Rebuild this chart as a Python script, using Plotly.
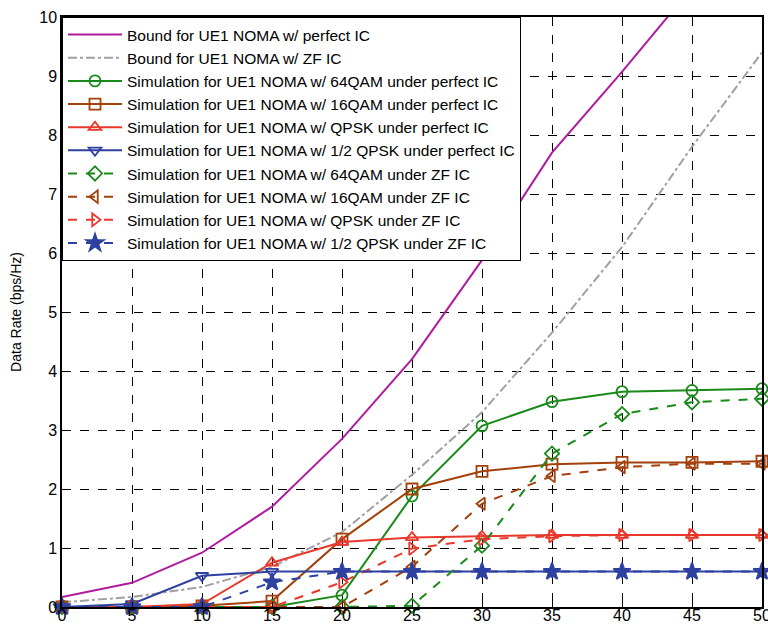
import plotly.graph_objects as go

snr = [0, 5, 10, 15, 20, 25, 30, 35, 40, 45, 50]

bound_perfect = [0.17, 0.41, 0.92, 1.7, 2.85, 4.2, 5.88, 7.7, 9.07, 10.5, 12.0]
bound_zf = [0.08, 0.17, 0.34, 0.68, 1.27, 2.24, 3.3, 4.65, 6.1, 7.8, 9.4]

sim_64qam_perfect = [0, 0, 0, 0, 0.2, 1.88, 3.07, 3.48, 3.65, 3.67, 3.7]
sim_16qam_perfect = [0, 0, 0.02, 0.1, 1.15, 2.0, 2.3, 2.42, 2.45, 2.45, 2.47]
sim_qpsk_perfect = [0, 0, 0.05, 0.75, 1.1, 1.18, 1.2, 1.22, 1.22, 1.22, 1.22]
sim_halfqpsk_perfect = [0, 0.05, 0.53, 0.6, 0.6, 0.6, 0.6, 0.6, 0.6, 0.6, 0.6]

sim_64qam_zf = [0, 0, 0, 0, 0, 0.02, 1.04, 2.6, 3.27, 3.47, 3.53]
sim_16qam_zf = [0, 0, 0, 0, 0, 0.68, 1.75, 2.22, 2.37, 2.43, 2.43]
sim_qpsk_zf = [0, 0, 0, 0, 0.42, 0.99, 1.15, 1.2, 1.22, 1.22, 1.22]
sim_halfqpsk_zf = [0, 0, 0, 0.42, 0.6, 0.6, 0.6, 0.6, 0.6, 0.6, 0.6]

x_ticks = [0, 5, 10, 15, 20, 25, 30, 35, 40, 45, 50]
y_ticks = [0, 1, 2, 3, 4, 5, 6, 7, 8, 9, 10]

MAG = "#B01A9E"
GRAY = "#A0A0A0"
GREEN = "#1A8A1A"
BROWN = "#A3400B"
RED = "#E8392C"
BLUE = "#2E41A0"

FONT = "Liberation Sans, Arial"

fig = go.Figure()

fig.add_trace(go.Scatter(x=snr, y=bound_perfect, mode="lines",
                         name="Bound for UE1 NOMA w/ perfect IC",
                         line=dict(color=MAG, width=2)))
fig.add_trace(go.Scatter(x=snr, y=bound_zf, mode="lines",
                         name="Bound for UE1 NOMA w/ ZF IC",
                         line=dict(color=GRAY, width=2, dash="dashdot")))

series = [
    (sim_64qam_perfect, "Simulation for UE1 NOMA w/ 64QAM under perfect IC", GREEN, "solid", "circle-open"),
    (sim_16qam_perfect, "Simulation for UE1 NOMA w/ 16QAM under perfect IC", BROWN, "solid", "square-open"),
    (sim_qpsk_perfect, "Simulation for UE1 NOMA w/ QPSK under perfect IC", RED, "solid", "triangle-up-open"),
    (sim_halfqpsk_perfect, "Simulation for UE1 NOMA w/ 1/2 QPSK under perfect IC", BLUE, "solid", "triangle-down-open"),
    (sim_64qam_zf, "Simulation for UE1 NOMA w/ 64QAM under ZF IC", GREEN, "dash", "diamond-open"),
    (sim_16qam_zf, "Simulation for UE1 NOMA w/ 16QAM under ZF IC", BROWN, "dash", "triangle-left-open"),
    (sim_qpsk_zf, "Simulation for UE1 NOMA w/ QPSK under ZF IC", RED, "dash", "triangle-right-open"),
    (sim_halfqpsk_zf, "Simulation for UE1 NOMA w/ 1/2 QPSK under ZF IC", BLUE, "dash", "star"),
]
for ys, name, color, dash, sym in series:
    fig.add_trace(go.Scatter(
        x=snr, y=ys, mode="lines+markers", name=name,
        line=dict(color=color, width=2, dash=dash),
        marker=dict(symbol=sym, size=11 if sym != "star" else 13, color=color,
                    line=dict(color=color, width=1.8)),
        cliponaxis=False))

axis_common = dict(
    showline=True, linecolor="black", linewidth=1.5, mirror=True,
    showgrid=True, gridcolor="black", gridwidth=1, griddash="dash",
    ticks="inside", ticklen=5, tickcolor="black",
    zeroline=False, automargin=False, ticklabeloverflow="allow",
    tickfont=dict(family=FONT, size=16, color="black"),
)

fig.update_xaxes(range=[0, 50], tickvals=x_ticks, ticklabelstandoff=-7, **axis_common)
fig.update_yaxes(range=[0, 10], tickvals=y_ticks,
                 title=dict(text="Data Rate (bps/Hz)",
                            font=dict(family=FONT, size=14, color="black"),
                            standoff=14),
                 **axis_common)

fig.update_layout(
    width=768, height=628,
    margin=dict(l=62, r=6, t=17, b=21),
    paper_bgcolor="white", plot_bgcolor="white",
    font=dict(family=FONT, color="black"),
    legend=dict(x=0, y=1, xanchor="left", yanchor="top",
                bgcolor="white", bordercolor="black", borderwidth=1,
                font=dict(family=FONT, size=15.5, color="black"),
                tracegroupgap=0, itemwidth=54),
    showlegend=True,
)

fig.write_html("out.html",
               config={"displayModeBar": False},
               post_script="document.body.style.margin='0';document.body.style.overflow='hidden';")
